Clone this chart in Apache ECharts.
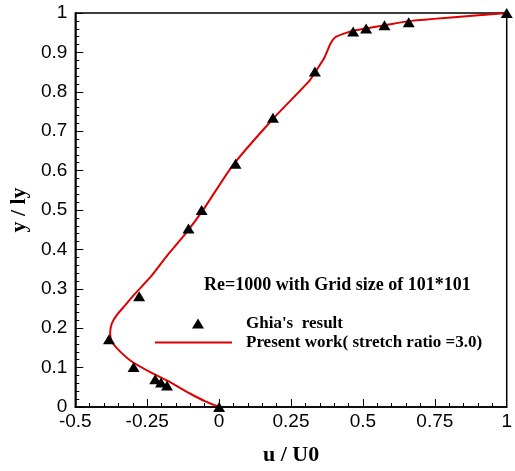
<!DOCTYPE html>
<html>
<head>
<meta charset="utf-8">
<script src="https://cdn.jsdelivr.net/npm/echarts@6/dist/echarts.min.js"></script>
<style>
    html, body { margin: 0; padding: 0; background: #fff; }
    #container { width: 515px; height: 471px; }
</style>
</head>
<body>
<div id="container"></div>
<script>
// Ghia et al. (Re=1000), u along the vertical centerline
let ghiaU = [1.0, 0.65928, 0.57492, 0.51117, 0.46604, 0.33304, 0.18719, 0.05702, -0.0608,
    -0.10648, -0.27805, -0.38289, -0.2973, -0.2222, -0.20196, -0.18109, 0.0];
let ghiaY = [1.0, 0.9766, 0.9688, 0.9609, 0.9531, 0.8516, 0.7344, 0.6172, 0.5,
    0.4531, 0.2813, 0.1719, 0.1016, 0.0703, 0.0625, 0.0547, 0.0];

// present work
let presentU = [0, -0.05, -0.0985, -0.135, -0.167, -0.236, -0.305, -0.35, -0.373, -0.379,
    -0.373, -0.356, -0.327, -0.293, -0.236, -0.18, -0.121, -0.053, 0.045, 0.187,
    0.313, 0.336, 0.365, 0.388, 0.405, 0.439, 0.474, 0.577, 0.668, 1.0];
let presentY = [0, 0.015, 0.033, 0.048, 0.062, 0.087, 0.116, 0.145, 0.166, 0.187,
    0.212, 0.233, 0.258, 0.287, 0.332, 0.385, 0.436, 0.503, 0.611, 0.731,
    0.827, 0.852, 0.885, 0.923, 0.939, 0.949, 0.956, 0.969, 0.98, 1.0];

let ghiaName = "Ghia's  result";
let presentName = 'Present work( stretch ratio =3.0)';

function zip(xs, ys) {
    let out = [];
    for (let i = 0; i < xs.length; i++) {
        out.push([xs[i], ys[i]]);
    }
    return out;
}

function serifBold(size) {
    return { fontFamily: 'Liberation Serif', fontWeight: 'bold', color: '#000', fontSize: size };
}

// fresh objects for every axis (echarts merges defaults into them)
function axisOpt(extra, labelMargin) {
    return Object.assign({
        type: 'value',
        nameLocation: 'middle',
        nameTextStyle: serifBold(22),
        axisLine: { show: true, onZero: false, lineStyle: { color: '#000', width: 1.5 } },
        axisTick: { show: true, inside: true, length: 8, lineStyle: { color: '#000' } },
        minorTick: { show: true, splitNumber: 5, length: 4, lineStyle: { color: '#000' } },
        splitLine: { show: false },
        axisLabel: { fontFamily: 'Liberation Sans', fontSize: 19, color: '#000', margin: labelMargin }
    }, extra);
}

let myChart = echarts.init(document.getElementById('container'));
let option = {
    animation: false,
    backgroundColor: '#fff',
    grid: {
        left: 73, right: 5, top: 13, bottom: 56,
        show: true, backgroundColor: 'transparent', borderColor: '#000', borderWidth: 1.5
    },
    legend: [{
        data: [{ name: ghiaName, icon: 'triangle' }],
        left: 192, top: 315, padding: 0,
        itemWidth: 12, itemHeight: 10,
        textStyle: Object.assign(serifBold(17), { padding: [0, 0, 0, 37] })
    }, {
        data: [{ name: presentName, icon: 'rect' }],
        left: 155, top: 334, padding: 0,
        itemWidth: 77, itemHeight: 2,
        textStyle: Object.assign(serifBold(17), { padding: [0, 0, 0, 9] })
    }],
    graphic: [{
        type: 'text',
        left: 204, top: 276,
        style: {
            text: 'Re=1000 with Grid size of 101*101',
            fontFamily: 'Liberation Serif', fontWeight: 'bold', fontSize: 18, fill: '#000'
        }
    }],
    xAxis: axisOpt({
        min: -0.5, max: 1, interval: 0.25,
        name: 'u / U0',
        nameGap: 37
    }, 5),
    yAxis: axisOpt({
        min: 0, max: 1, interval: 0.1,
        name: 'y / ly',
        nameGap: 44
    }, 8),
    series: [{
        name: presentName,
        type: 'line',
        data: zip(presentU, presentY),
        smooth: 0.2,
        showSymbol: false,
        symbol: 'none',
        itemStyle: { color: '#dd0000' },
        lineStyle: { color: '#dd0000', width: 2 },
        z: 2
    }, {
        name: ghiaName,
        type: 'scatter',
        data: zip(ghiaU, ghiaY),
        symbol: 'triangle',
        symbolSize: [12, 10],
        itemStyle: { color: '#000', opacity: 1 },
        z: 3
    }]
};
myChart.setOption(option);
</script>
</body>
</html>
